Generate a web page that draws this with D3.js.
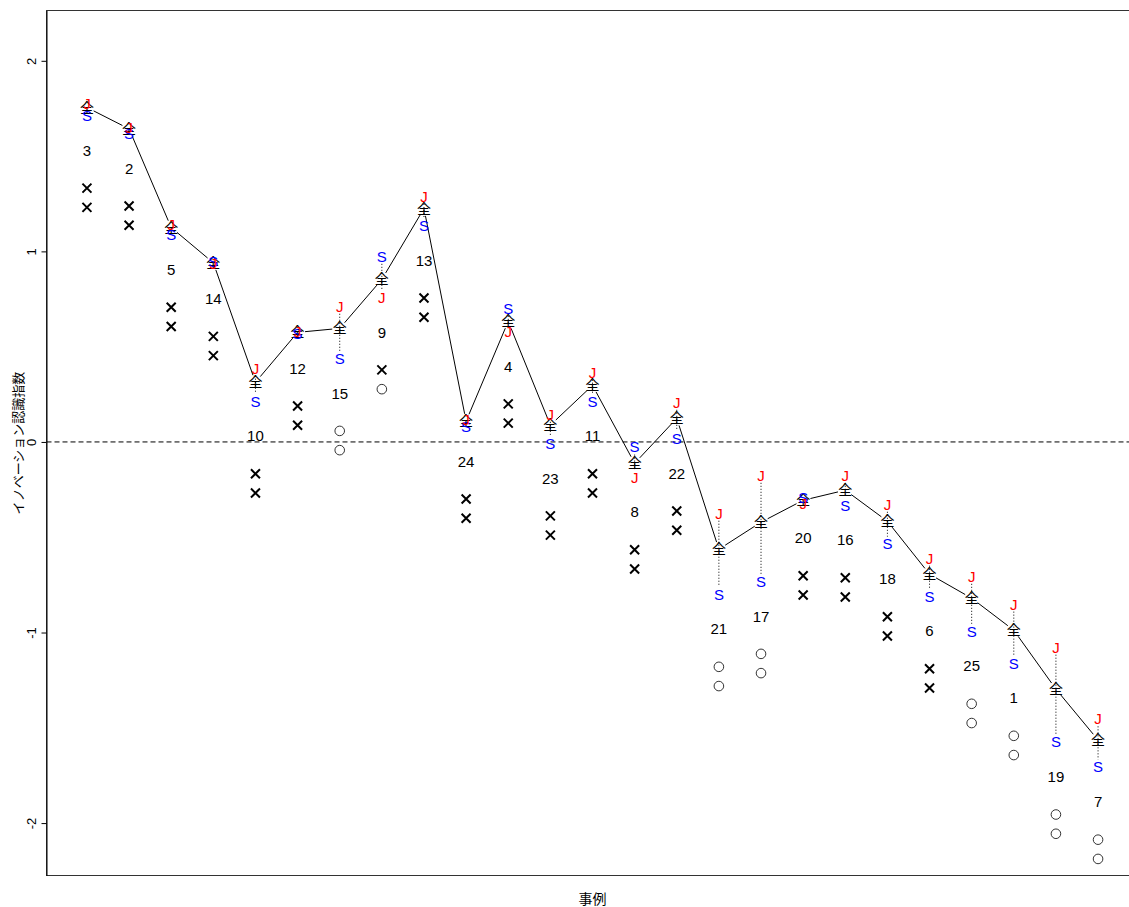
<!DOCTYPE html>
<html>
<head>
<meta charset="utf-8">
<script src="https://cdn.jsdelivr.net/npm/d3@7"></script>
<style>
  body { margin: 0; background: #fff; }
  svg { display: block; }
  text { font-family: "Liberation Sans", Arial, sans-serif; }
  .cjk { font-family: "Noto Sans CJK JP", "Noto Sans CJK SC", sans-serif; }
</style>
</head>
<body>
<svg id="chart" width="1129" height="907"></svg>
<script>
// Case IDs in plotted order (sorted by overall index)
const caseIds = [3, 2, 5, 14, 10, 12, 15, 9, 13, 24, 4, 23, 11, 8, 22, 21, 17, 20, 16, 18, 6, 25, 1, 19, 7];

// Overall innovation-awareness index (全)
const zenValues = [1.755, 1.643, 1.125, 0.940, 0.313, 0.575, 0.596, 0.853, 1.225, 0.109, 0.633, 0.088, 0.297,
                   -0.112, 0.124, -0.563, -0.421, -0.306, -0.253, -0.416, -0.694, -0.820, -0.988, -1.297, -1.564];

// Sub-index J (red)
const jValues = [1.776, 1.652, 1.140, 0.935, 0.387, 0.580, 0.712, 0.759, 1.288, 0.119, 0.581, 0.145, 0.366,
                 -0.185, 0.208, -0.374, -0.175, -0.321, -0.175, -0.327, -0.610, -0.705, -0.851, -1.077, -1.453];

// Sub-index S (blue)
const sValues = [1.713, 1.619, 1.088, 0.948, 0.214, 0.570, 0.439, 0.974, 1.136, 0.082, 0.701, -0.007, 0.214,
                 -0.027, 0.019, -0.799, -0.731, -0.290, -0.332, -0.536, -0.809, -0.993, -1.161, -1.574, -1.706];

// Judgement symbols under each case: "x" or "o"
const upperMarks = ["x","x","x","x","x","x","o","x","x","x","x","x","x","x","x","o","o","x","x","x","x","o","o","o","o"];
const lowerMarks = ["x","x","x","x","x","x","o","o","x","x","x","x","x","x","x","o","o","x","x","x","x","o","o","o","o"];

const yTicks = [-2, -1, 0, 1, 2];
const yTitle = "イノベーション認識指数";
const xTitle = "事例";

const svg = d3.select("#chart");
const plot = { left: 46.5, right: 1138.5, top: 10.5, bottom: 875.5 };

const x = d3.scaleLinear().domain([0.04, caseIds.length + 0.96]).range([plot.left, plot.right]);
const y = d3.scaleLinear().domain([-2.275, 2.264]).range([plot.bottom, plot.top]);

const data = caseIds.map((id, i) => ({
  id, pos: i + 1,
  zen: zenValues[i], j: jValues[i], s: sValues[i],
  m1: upperMarks[i], m2: lowerMarks[i]
}));

// clip to plotting region
svg.append("defs").append("clipPath").attr("id", "clip")
  .append("rect").attr("x", plot.left).attr("y", plot.top)
  .attr("width", plot.right - plot.left).attr("height", plot.bottom - plot.top);

const g = svg.append("g").attr("clip-path", "url(#clip)");

// zero reference line
g.append("line")
  .attr("x1", plot.left).attr("x2", plot.right)
  .attr("y1", y(0)).attr("y2", y(0))
  .attr("stroke", "#000").attr("stroke-width", 1)
  .attr("stroke-dasharray", "5,3");

// connecting line between overall values, with gaps around the symbols
const gap = 7.5;
for (let i = 0; i < data.length - 1; i++) {
  const a = data[i], b = data[i + 1];
  const x1 = x(a.pos), y1 = y(a.zen), x2 = x(b.pos), y2 = y(b.zen);
  const len = Math.hypot(x2 - x1, y2 - y1);
  const ux = (x2 - x1) / len, uy = (y2 - y1) / len;
  g.append("line")
    .attr("x1", x1 + ux * gap).attr("y1", y1 + uy * gap)
    .attr("x2", x2 - ux * gap).attr("y2", y2 - uy * gap)
    .attr("stroke", "#000").attr("stroke-width", 1);
}

// dotted range between J and S
data.forEach(d => {
  const yTop = Math.min(y(d.j), y(d.s)) + 7.5;
  const yBot = Math.max(y(d.j), y(d.s)) - 7.5;
  if (yBot - yTop > 2) {
    g.append("line")
      .attr("x1", x(d.pos)).attr("x2", x(d.pos))
      .attr("y1", yTop).attr("y2", yBot)
      .attr("stroke", "#000").attr("stroke-width", 1)
      .attr("stroke-dasharray", "1,2");
  }
});

// overall symbol
g.selectAll("text.zen").data(data).join("text")
  .attr("class", "zen cjk")
  .attr("x", d => x(d.pos)).attr("y", d => y(d.zen))
  .attr("dy", "0.36em")
  .attr("text-anchor", "middle")
  .attr("font-size", 14)
  .attr("fill", "#000")
  .text("全");

// S (blue) and J (red)
g.selectAll("text.s").data(data).join("text")
  .attr("class", "s")
  .attr("x", d => x(d.pos)).attr("y", d => y(d.s))
  .attr("dy", "0.36em").attr("text-anchor", "middle")
  .attr("font-size", 15).attr("fill", "#0000FF")
  .text("S");

g.selectAll("text.j").data(data).join("text")
  .attr("class", "j")
  .attr("x", d => x(d.pos)).attr("y", d => y(d.j))
  .attr("dy", "0.36em").attr("text-anchor", "middle")
  .attr("font-size", 15).attr("fill", "#FF0000")
  .text("J");

// case number and judgement marks below the lowest of the three values
const lowest = d => Math.min(d.zen, d.j, d.s);
g.selectAll("text.id").data(data).join("text")
  .attr("class", "id")
  .attr("x", d => x(d.pos)).attr("y", d => y(lowest(d) - 0.183))
  .attr("dy", "0.36em").attr("text-anchor", "middle")
  .attr("font-size", 15).attr("fill", "#000")
  .text(d => d.id);

function drawMark(type, cx, cy) {
  if (type === "x") {
    const r = 4.5;
    g.append("path")
      .attr("d", `M${cx - r},${cy - r}L${cx + r},${cy + r}M${cx - r},${cy + r}L${cx + r},${cy - r}`)
      .attr("stroke", "#000").attr("stroke-width", 2).attr("fill", "none");
  } else {
    g.append("circle").attr("cx", cx).attr("cy", cy).attr("r", 4.8)
      .attr("stroke", "#333").attr("stroke-width", 1).attr("fill", "none");
  }
}
data.forEach(d => {
  drawMark(d.m1, x(d.pos), y(lowest(d) - 0.381));
  drawMark(d.m2, x(d.pos), y(lowest(d) - 0.482));
});

// frame
svg.append("rect")
  .attr("x", plot.left).attr("y", plot.top)
  .attr("width", plot.right - plot.left).attr("height", plot.bottom - plot.top)
  .attr("fill", "none").attr("stroke", "#333").attr("stroke-width", 1);

// y axis with rotated tick labels
const yAxis = svg.append("g")
  .attr("transform", `translate(${plot.left},0)`)
  .call(d3.axisLeft(y).tickValues(yTicks).tickSize(5).tickSizeOuter(0).tickFormat(d => String(d)));
yAxis.select(".domain").attr("stroke", "#000");
yAxis.selectAll(".tick line").attr("stroke", "#000");
yAxis.selectAll(".tick text")
  .attr("x", null).attr("dy", null)
  .attr("transform", "translate(-15,0) rotate(-90)")
  .attr("dy", "0.35em")
  .attr("text-anchor", "middle")
  .attr("font-size", 13)
  .attr("font-family", "Liberation Sans, Arial, sans-serif")
  .attr("fill", "#000");

// axis titles
svg.append("text")
  .attr("class", "cjk")
  .attr("transform", `translate(18,${(plot.top + plot.bottom) / 2}) rotate(-90)`)
  .attr("dy", "0.38em").attr("text-anchor", "middle")
  .attr("font-size", 13).attr("fill", "#000")
  .text(yTitle);

svg.append("text")
  .attr("class", "cjk")
  .attr("x", (plot.left + plot.right) / 2).attr("y", 899)
  .attr("dy", "0.36em").attr("text-anchor", "middle")
  .attr("font-size", 14).attr("fill", "#000")
  .text(xTitle);
</script>
</body>
</html>
